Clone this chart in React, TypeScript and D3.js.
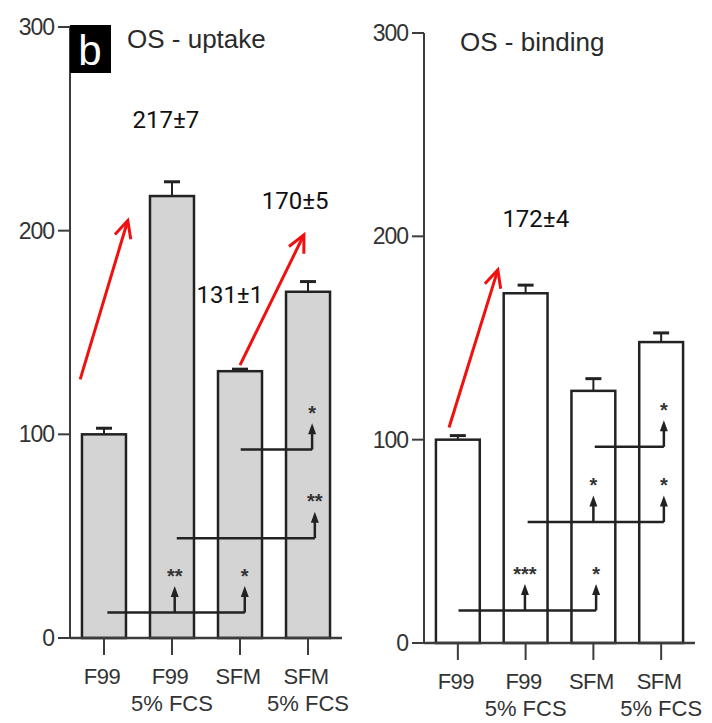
import * as d3 from "d3";

const categories = ["F99", "F99", "SFM", "SFM"];
const subLabels = ["", "5% FCS", "", "5% FCS"];
const yTicks = [0, 100, 200, 300];

const uptakeMean = [100, 217, 131, 170];
const uptakeErr = [3, 7, 1, 5];
const bindingMean = [100, 172, 124, 148];
const bindingErr = [2, 4, 6, 4.5];

// numbers written over the bars: [text, category position, value]
const uptakeNotes: [string, number, number][] = [
  ["217±7", 0.91, 255],
  ["170±5", 2.81, 215],
  ["131±1", 1.85, 169],
];
const bindingNotes: [string, number, number][] = [["172±4", 1.15, 209]];

// red arrows: [from pos, from value, to pos, to value]
const uptakeArrows = [
  [-0.35, 127, 0.35, 205],
  [2.0, 134, 2.94, 198],
];
const bindingArrows = [[-0.13, 106, 0.59, 183.5]];

// significance brackets: level, span and the starred arrows
type Bracket = { level: number; from: number; to: number; marks: [number, string][] };
const uptakeBrackets: Bracket[] = [
  { level: 12.5, from: 0.05, to: 2.07, marks: [[1.04, "**"], [2.07, "*"]] },
  { level: 49, from: 1.07, to: 3.1, marks: [[3.1, "**"]] },
  { level: 92.5, from: 2.01, to: 3.06, marks: [[3.06, "*"]] },
];
const bindingBrackets: Bracket[] = [
  { level: 16, from: 0.01, to: 2.04, marks: [[0.99, "***"], [2.04, "*"]] },
  { level: 59.5, from: 1.03, to: 3.04, marks: [[2.0, "*"], [3.04, "*"]] },
  { level: 96.5, from: 2.02, to: 3.04, marks: [[3.04, "*"]] },
];

const AXIS_FONT = "'Liberation Sans', Arial, sans-serif";
const NOTE_FONT = "Roboto, 'Noto Sans', sans-serif";

function Panel({ x0, x1, yBottom, yTop, title, titleX, titleY, mean, err, fill, notes, arrows, brackets, badge }: any) {
  const x = d3
    .scaleBand<number>()
    .domain(d3.range(categories.length))
    .range([x0, x1])
    .paddingInner(0.353)
    .paddingOuter(0.176);
  const y = d3.scaleLinear().domain([0, 300]).range([yBottom, yTop]);
  const bw = x.bandwidth();
  const cx = (p: number) => (x(0) as number) + bw / 2 + p * x.step();
  const axisColor = "#3c3c3c";

  return (
    <g>
      {/* bars */}
      {mean.map((m: number, i: number) => (
        <g key={i}>
          <line
            x1={cx(i)}
            x2={cx(i)}
            y1={y(m)}
            y2={y(m + err[i])}
            stroke="#222"
            strokeWidth={2}
          />
          <line
            x1={cx(i) - 8}
            x2={cx(i) + 8}
            y1={y(m + err[i])}
            y2={y(m + err[i])}
            stroke="#222"
            strokeWidth={3}
          />
          <rect
            x={x(i)}
            y={y(m)}
            width={bw}
            height={y(0) - y(m)}
            fill={fill}
            stroke="#222"
            strokeWidth={2.5}
          />
        </g>
      ))}

      {/* y axis */}
      <line x1={x0} x2={x0} y1={y(300)} y2={y(0)} stroke={axisColor} strokeWidth={2} />
      {yTicks.map((t) => (
        <g key={t}>
          <line x1={x0 - 12} x2={x0} y1={y(t)} y2={y(t)} stroke={axisColor} strokeWidth={2} />
          <text
            x={x0 - 16}
            y={y(t) + 8}
            textAnchor="end"
            fontFamily={AXIS_FONT}
            fontSize={23}
            letterSpacing={-1}
            fill="#333"
          >
            {t}
          </text>
        </g>
      ))}

      {/* x axis */}
      <line x1={x0} x2={x1} y1={y(0)} y2={y(0)} stroke={axisColor} strokeWidth={2.5} />
      {categories.map((c, i) => (
        <g key={i}>
          <line x1={cx(i)} x2={cx(i)} y1={y(0)} y2={y(0) + 17} stroke={axisColor} strokeWidth={2} />
          <text
            x={cx(i) - 2}
            y={y(0) + 46}
            textAnchor="middle"
            fontFamily={AXIS_FONT}
            fontSize={22}
            letterSpacing={-0.5}
            fill="#333"
          >
            {c}
          </text>
          {subLabels[i] && (
            <text
              x={cx(i)}
              y={y(0) + 73}
              textAnchor="middle"
              fontFamily={AXIS_FONT}
              fontSize={22}
              fill="#333"
            >
              {subLabels[i]}
            </text>
          )}
        </g>
      ))}

      {/* significance brackets */}
      {brackets.map((b: Bracket, k: number) => (
        <g key={k}>
          <line
            x1={cx(b.from)}
            x2={cx(b.to)}
            y1={y(b.level)}
            y2={y(b.level)}
            stroke="#222"
            strokeWidth={2.5}
          />
          {b.marks.map(([p, s], j) => {
            const px = cx(p);
            const base = y(b.level);
            const tip = y(b.level + 13);
            return (
              <g key={j}>
                <line x1={px} x2={px} y1={base} y2={tip + 6} stroke="#222" strokeWidth={2.5} />
                <path d={`M${px},${tip} L${px - 4},${tip + 11} L${px + 4},${tip + 11} Z`} fill="#222" />
                <text
                  x={px}
                  y={y(b.level + 20) + 11}
                  textAnchor="middle"
                  fontFamily={AXIS_FONT}
                  fontSize={20}
                  fontWeight="bold"
                  fill="#333"
                >
                  {s}
                </text>
              </g>
            );
          })}
        </g>
      ))}

      {/* red arrows */}
      {arrows.map((a: number[], k: number) => {
        const xa = cx(a[0]);
        const ya = y(a[1]);
        const xb = cx(a[2]);
        const yb = y(a[3]);
        const ang = Math.atan2(yb - ya, xb - xa);
        const len = 19;
        const w1 = [xb - len * Math.cos(ang - 0.45), yb - len * Math.sin(ang - 0.45)];
        const w2 = [xb - len * Math.cos(ang + 0.45), yb - len * Math.sin(ang + 0.45)];
        return (
          <g key={k} stroke="#f01010" strokeWidth={3} fill="none">
            <line x1={xa} y1={ya} x2={xb} y2={yb} />
            <path d={`M${w1[0]},${w1[1]} L${xb},${yb} L${w2[0]},${w2[1]}`} />
          </g>
        );
      })}

      {/* notes */}
      {notes.map(([t, p, v]: [string, number, number], k: number) => (
        <text
          key={k}
          x={cx(p)}
          y={y(v) + 9}
          textAnchor="middle"
          fontFamily={NOTE_FONT}
          fontSize={24}
          fill="#111"
        >
          {t}
        </text>
      ))}

      {/* badge and title */}
      {badge && (
        <g>
          <rect x={x0} y={y(300) - 2} width={41} height={48} fill="#000" />
          <text
            x={x0 + 20}
            y={y(300) + 38}
            textAnchor="middle"
            fontFamily={AXIS_FONT}
            fontSize={42}
            fill="#fff"
          >
            {badge}
          </text>
        </g>
      )}
      <text x={titleX} y={titleY} fontFamily={AXIS_FONT} fontSize={26} fill="#2a2a2a">
        {title}
      </text>
    </g>
  );
}

export default function App() {
  return (
    <svg
      width={712}
      height={723}
      style={{ position: "absolute", left: 0, top: 0, background: "#fff" }}
    >
      <rect width={712} height={723} fill="#fff" />
      <Panel
        x0={70}
        x1={342}
        yBottom={638}
        yTop={27}
        title="OS - uptake"
        titleX={127}
        titleY={48}
        mean={uptakeMean}
        err={uptakeErr}
        fill="#d4d4d4"
        notes={uptakeNotes}
        arrows={uptakeArrows}
        brackets={uptakeBrackets}
        badge="b"
      />
      <Panel
        x0={424}
        x1={695}
        yBottom={643}
        yTop={33}
        title="OS - binding"
        titleX={460}
        titleY={51}
        mean={bindingMean}
        err={bindingErr}
        fill="#fff"
        notes={bindingNotes}
        arrows={bindingArrows}
        brackets={bindingBrackets}
      />
    </svg>
  );
}
